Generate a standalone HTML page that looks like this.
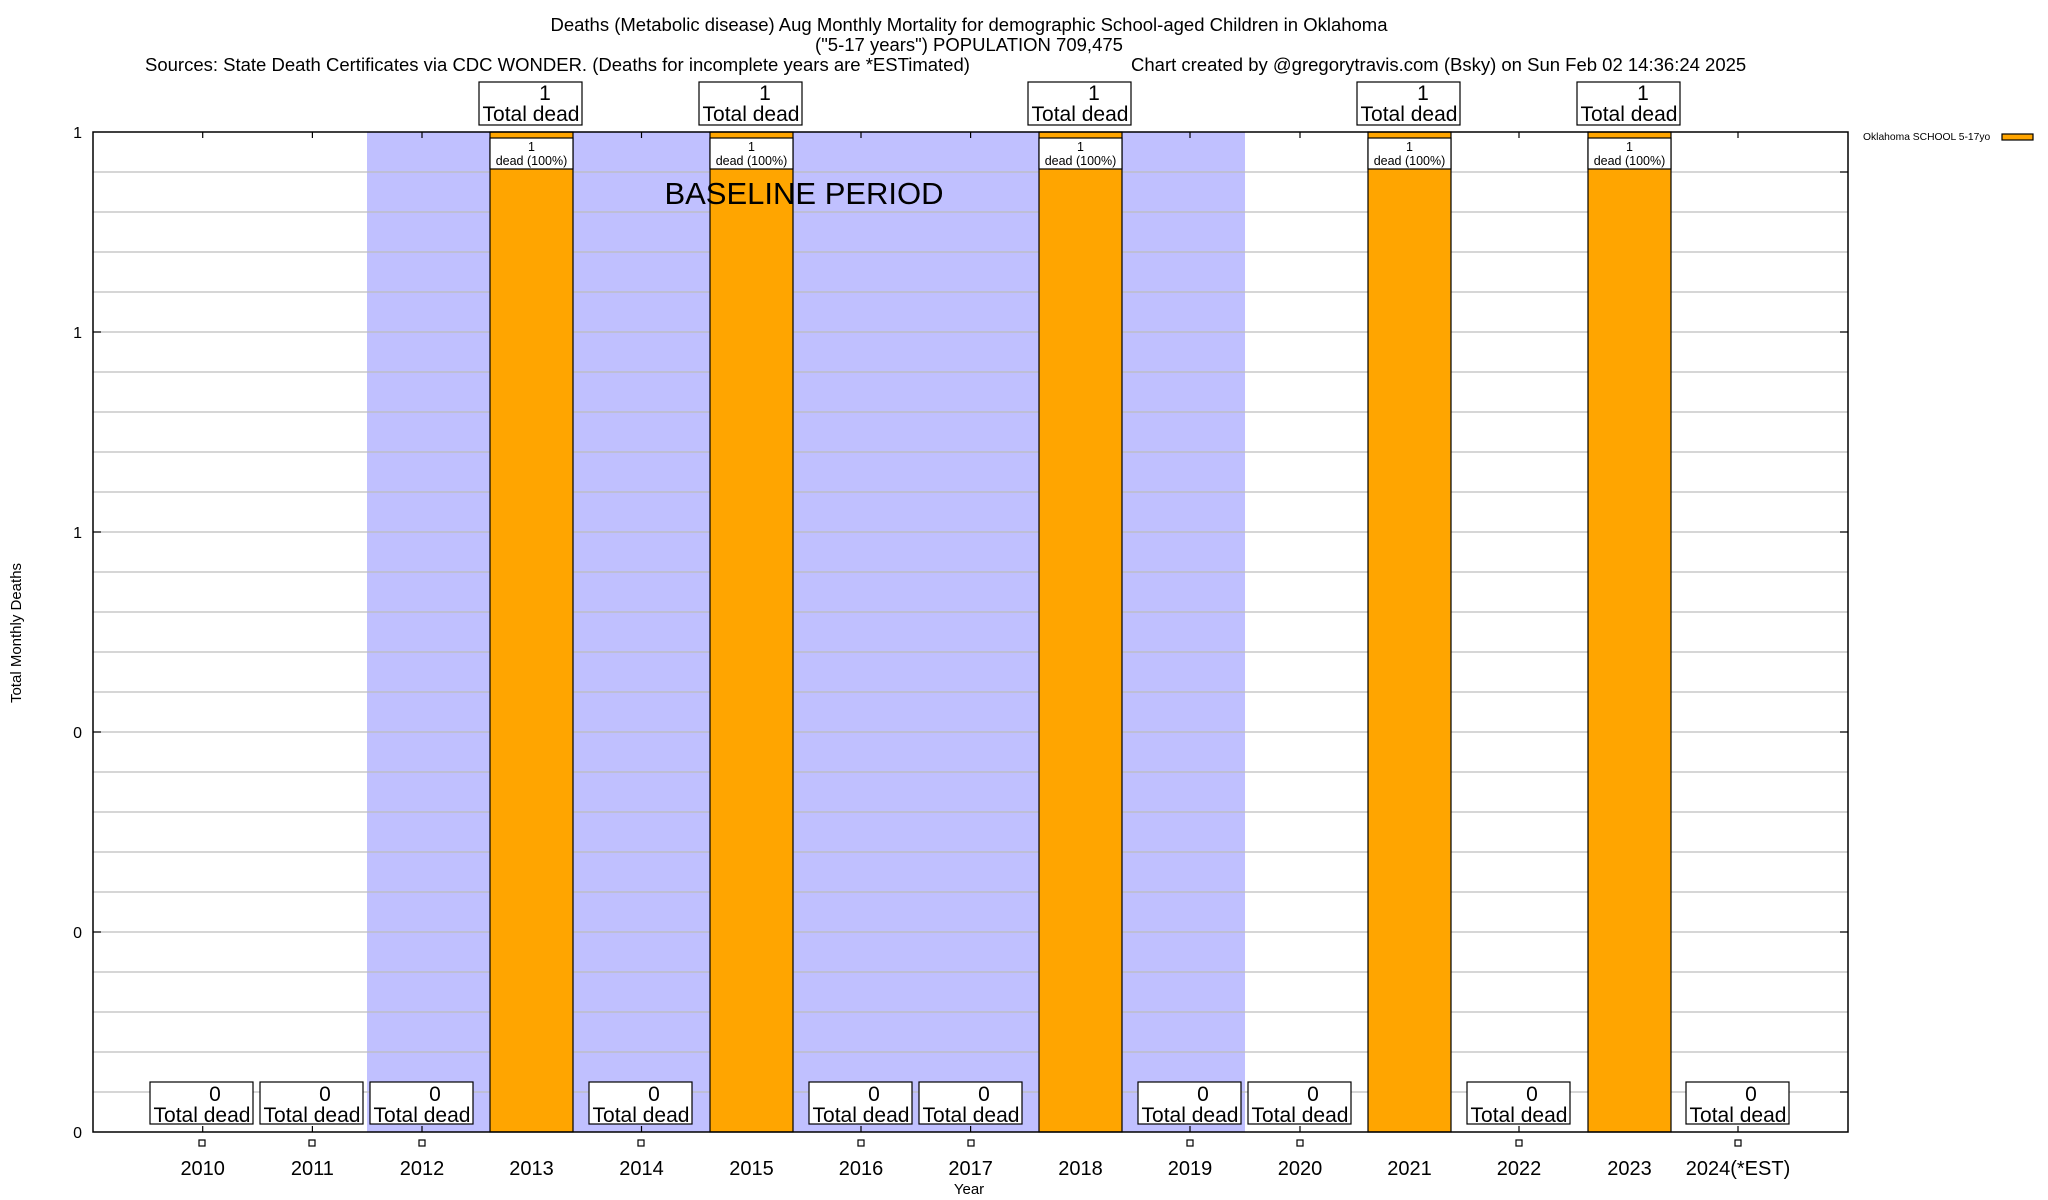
<!DOCTYPE html>
<html><head><meta charset="utf-8"><style>
html,body{margin:0;padding:0;background:#fff;}
svg{display:block;font-family:"Liberation Sans",Arial,sans-serif;}
</style></head><body>
<svg width="2048" height="1200" viewBox="0 0 2048 1200" xmlns="http://www.w3.org/2000/svg">
<rect width="2048" height="1200" fill="#fff"/>
<rect x="367" y="132" width="878" height="1000" fill="#c0c0ff"/>
<g stroke="#bdbdbd" stroke-width="1.3">
<line x1="93" x2="1848" y1="172" y2="172"/><line x1="93" x2="1848" y1="212" y2="212"/><line x1="93" x2="1848" y1="252" y2="252"/><line x1="93" x2="1848" y1="292" y2="292"/><line x1="93" x2="1848" y1="332" y2="332"/>
<line x1="93" x2="1848" y1="372" y2="372"/><line x1="93" x2="1848" y1="412" y2="412"/><line x1="93" x2="1848" y1="452" y2="452"/><line x1="93" x2="1848" y1="492" y2="492"/><line x1="93" x2="1848" y1="532" y2="532"/>
<line x1="93" x2="1848" y1="572" y2="572"/><line x1="93" x2="1848" y1="612" y2="612"/><line x1="93" x2="1848" y1="652" y2="652"/><line x1="93" x2="1848" y1="692" y2="692"/><line x1="93" x2="1848" y1="732" y2="732"/>
<line x1="93" x2="1848" y1="772" y2="772"/><line x1="93" x2="1848" y1="812" y2="812"/><line x1="93" x2="1848" y1="852" y2="852"/><line x1="93" x2="1848" y1="892" y2="892"/><line x1="93" x2="1848" y1="932" y2="932"/>
<line x1="93" x2="1848" y1="972" y2="972"/><line x1="93" x2="1848" y1="1012" y2="1012"/><line x1="93" x2="1848" y1="1052" y2="1052"/><line x1="93" x2="1848" y1="1092" y2="1092"/>
</g>
<g stroke="#000" stroke-width="1.2">
<line x1="93" x2="101" y1="332" y2="332"/><line x1="93" x2="101" y1="532" y2="532"/><line x1="93" x2="101" y1="732" y2="732"/><line x1="93" x2="101" y1="932" y2="932"/>
<line x1="1840" x2="1848" y1="332" y2="332"/><line x1="1840" x2="1848" y1="532" y2="532"/><line x1="1840" x2="1848" y1="732" y2="732"/><line x1="1840" x2="1848" y1="932" y2="932"/>
<line x1="1840" x2="1848" y1="172" y2="172"/><line x1="1840" x2="1848" y1="1092" y2="1092"/>
</g>
<g stroke="#000" stroke-width="1.2">
<rect x="490" y="132" width="83" height="1000" fill="#ffa500"/>
<rect x="710" y="132" width="83" height="1000" fill="#ffa500"/>
<rect x="1039" y="132" width="83" height="1000" fill="#ffa500"/>
<rect x="1368" y="132" width="83" height="1000" fill="#ffa500"/>
<rect x="1588" y="132" width="83" height="1000" fill="#ffa500"/>
<rect x="490" y="138" width="83" height="31" fill="#fff"/>
<rect x="710" y="138" width="83" height="31" fill="#fff"/>
<rect x="1039" y="138" width="83" height="31" fill="#fff"/>
<rect x="1368" y="138" width="83" height="31" fill="#fff"/>
<rect x="1588" y="138" width="83" height="31" fill="#fff"/>
</g>
<g font-size="12.5" text-anchor="middle">
<text x="531.5" y="151">1</text><text x="531.5" y="165">dead (100%)</text>
<text x="751.5" y="151">1</text><text x="751.5" y="165">dead (100%)</text>
<text x="1080.5" y="151">1</text><text x="1080.5" y="165">dead (100%)</text>
<text x="1409.5" y="151">1</text><text x="1409.5" y="165">dead (100%)</text>
<text x="1629.5" y="151">1</text><text x="1629.5" y="165">dead (100%)</text>
</g>
<rect x="93" y="132" width="1755" height="1000" fill="none" stroke="#000" stroke-width="1.5"/>
<g stroke="#000" stroke-width="1.2">
<line x1="202.7" x2="202.7" y1="132" y2="138"/><line x1="312.4" x2="312.4" y1="132" y2="138"/><line x1="422" x2="422" y1="132" y2="138"/><line x1="641.5" x2="641.5" y1="132" y2="138"/><line x1="861" x2="861" y1="132" y2="138"/><line x1="970.6" x2="970.6" y1="132" y2="138"/><line x1="1190" x2="1190" y1="132" y2="138"/><line x1="1300" x2="1300" y1="132" y2="138"/><line x1="1519" x2="1519" y1="132" y2="138"/><line x1="1738" x2="1738" y1="132" y2="138"/>
<line x1="202.7" x2="202.7" y1="1126" y2="1132"/><line x1="312.4" x2="312.4" y1="1126" y2="1132"/><line x1="422" x2="422" y1="1126" y2="1132"/><line x1="641.5" x2="641.5" y1="1126" y2="1132"/><line x1="861" x2="861" y1="1126" y2="1132"/><line x1="970.6" x2="970.6" y1="1126" y2="1132"/><line x1="1190" x2="1190" y1="1126" y2="1132"/><line x1="1300" x2="1300" y1="1126" y2="1132"/><line x1="1519" x2="1519" y1="1126" y2="1132"/><line x1="1738" x2="1738" y1="1126" y2="1132"/>
</g>
<g stroke="#000" stroke-width="1.2" fill="#fff">
<rect x="150" y="1082" width="103" height="42"/><rect x="260" y="1082" width="103" height="42"/><rect x="370" y="1082" width="103" height="42"/><rect x="589" y="1082" width="103" height="42"/><rect x="809" y="1082" width="103" height="42"/><rect x="919" y="1082" width="103" height="42"/><rect x="1138" y="1082" width="103" height="42"/><rect x="1248" y="1082" width="103" height="42"/><rect x="1467" y="1082" width="103" height="42"/><rect x="1686" y="1082" width="103" height="42"/>
</g>
<g font-size="21" text-anchor="middle">
<text x="215" y="1101">0</text><text x="202" y="1122">Total dead</text>
<text x="325" y="1101">0</text><text x="312" y="1122">Total dead</text>
<text x="435" y="1101">0</text><text x="422" y="1122">Total dead</text>
<text x="654" y="1101">0</text><text x="641" y="1122">Total dead</text>
<text x="874" y="1101">0</text><text x="861" y="1122">Total dead</text>
<text x="984" y="1101">0</text><text x="971" y="1122">Total dead</text>
<text x="1203" y="1101">0</text><text x="1190" y="1122">Total dead</text>
<text x="1313" y="1101">0</text><text x="1300" y="1122">Total dead</text>
<text x="1532" y="1101">0</text><text x="1519" y="1122">Total dead</text>
<text x="1751" y="1101">0</text><text x="1738" y="1122">Total dead</text>
</g>
<g stroke="#000" stroke-width="1.2" fill="#fff">
<rect x="479" y="82" width="103" height="43"/><rect x="699" y="82" width="103" height="43"/><rect x="1028" y="82" width="103" height="43"/><rect x="1357" y="82" width="103" height="43"/><rect x="1577" y="82" width="103" height="43"/>
</g>
<g font-size="21" text-anchor="middle">
<text x="545" y="100">1</text><text x="531" y="121">Total dead</text>
<text x="765" y="100">1</text><text x="751" y="121">Total dead</text>
<text x="1094" y="100">1</text><text x="1080" y="121">Total dead</text>
<text x="1423" y="100">1</text><text x="1409" y="121">Total dead</text>
<text x="1643" y="100">1</text><text x="1629" y="121">Total dead</text>
</g>
<g stroke="#000" stroke-width="1.2" fill="#fff">
<rect x="199" y="1140" width="6" height="6"/><rect x="309" y="1140" width="6" height="6"/><rect x="419" y="1140" width="6" height="6"/><rect x="638" y="1140" width="6" height="6"/><rect x="858" y="1140" width="6" height="6"/><rect x="968" y="1140" width="6" height="6"/><rect x="1187" y="1140" width="6" height="6"/><rect x="1297" y="1140" width="6" height="6"/><rect x="1516" y="1140" width="6" height="6"/><rect x="1735" y="1140" width="6" height="6"/>
</g>
<g font-size="20" text-anchor="middle">
<text x="202.7" y="1175">2010</text><text x="312.4" y="1175">2011</text><text x="422" y="1175">2012</text><text x="531.5" y="1175">2013</text><text x="641.5" y="1175">2014</text><text x="751.5" y="1175">2015</text><text x="861" y="1175">2016</text><text x="970.6" y="1175">2017</text><text x="1080.5" y="1175">2018</text><text x="1190" y="1175">2019</text><text x="1300" y="1175">2020</text><text x="1409.5" y="1175">2021</text><text x="1519" y="1175">2022</text><text x="1629.5" y="1175">2023</text><text x="1738" y="1175">2024(*EST)</text>
</g>
<text x="969" y="1194" font-size="15" text-anchor="middle">Year</text>
<g font-size="16" text-anchor="end">
<text x="82" y="138">1</text><text x="82" y="338">1</text><text x="82" y="538">1</text><text x="82" y="738">0</text><text x="82" y="938">0</text><text x="82" y="1138">0</text>
</g>
<text transform="translate(21,633) rotate(-90)" font-size="15" text-anchor="middle">Total Monthly Deaths</text>
<text x="804" y="204" font-size="31" text-anchor="middle">BASELINE PERIOD</text>
<g font-size="18.5" text-anchor="middle">
<text x="969" y="31">Deaths (Metabolic disease) Aug Monthly Mortality for demographic School-aged Children in Oklahoma</text>
<text x="969" y="51">("5-17 years") POPULATION 709,475</text>
</g>
<text x="145" y="71" font-size="18.5">Sources: State Death Certificates via CDC WONDER. (Deaths for incomplete years are *ESTimated)</text>
<text x="1131" y="71" font-size="18.5">Chart created by @gregorytravis.com (Bsky) on Sun Feb 02 14:36:24 2025</text>
<text x="1863" y="140" font-size="10.3">Oklahoma SCHOOL 5-17yo</text>
<rect x="2002" y="134" width="31" height="6" fill="#ffa500" stroke="#000" stroke-width="1.2"/>
</svg>
</body></html>
